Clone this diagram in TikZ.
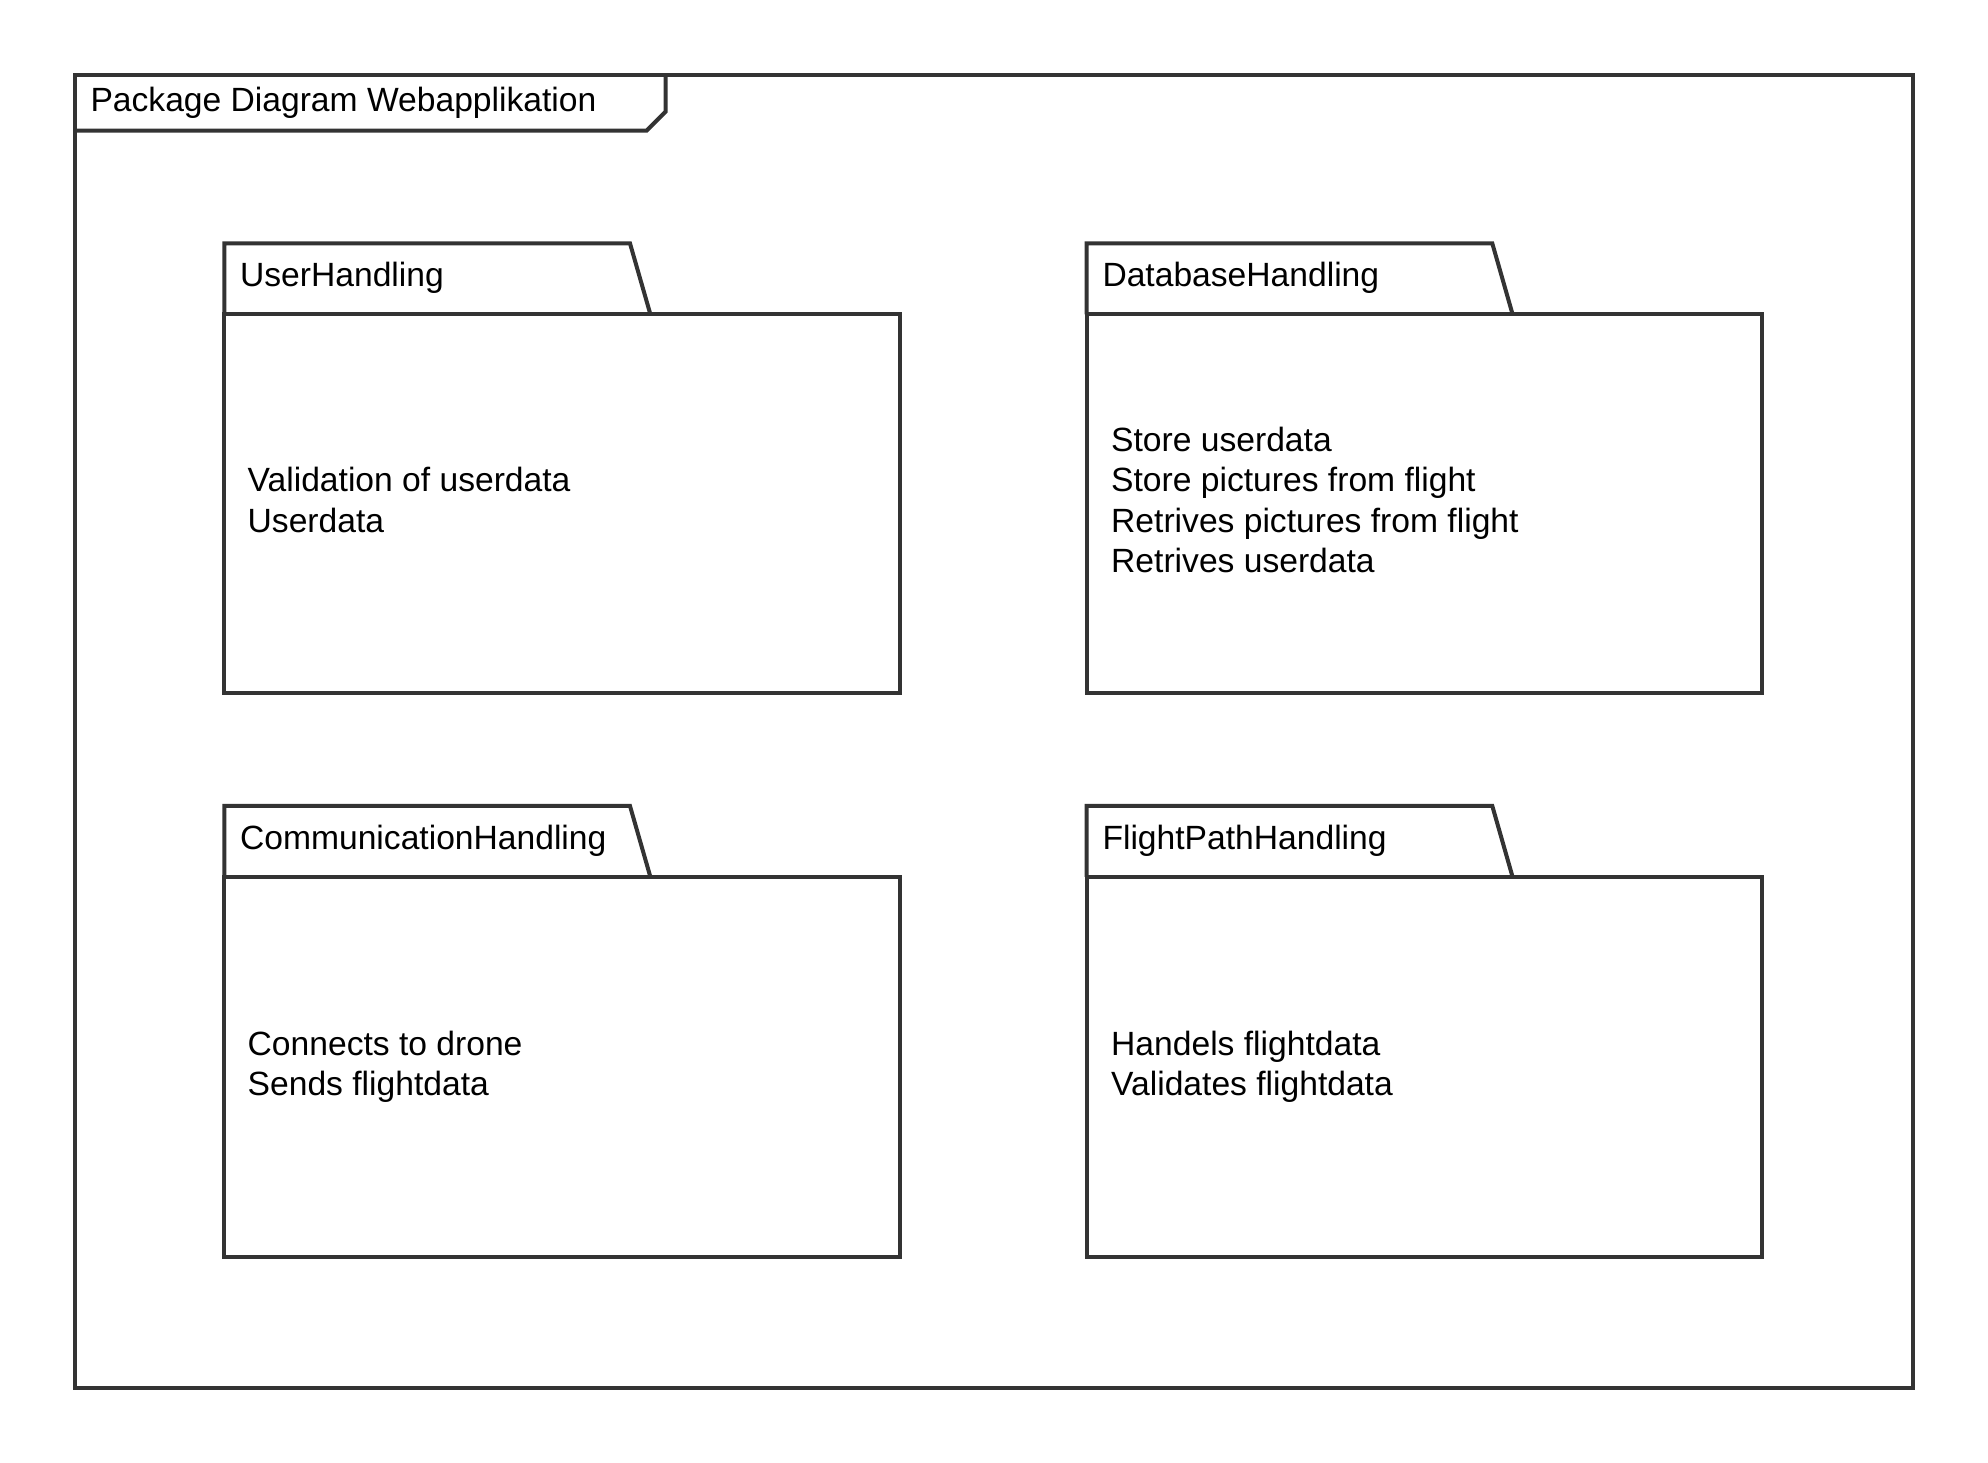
\documentclass[tikz,border=0pt]{standalone}
\usepackage{fontspec}
\setmainfont{Liberation Sans}
\usepackage{xcolor}
\definecolor{umlline}{HTML}{333333}

\begin{document}
\begin{tikzpicture}[x=0.4pt,y=-0.4pt,
    umlframe/.style={draw=umlline,line width=1.6pt,line join=miter},
    pkgtitle/.style={anchor=west,inner sep=0pt,font=\fontsize{13.45}{16.2}\selectfont},
    pkgtext/.style={anchor=west,inner sep=0pt,align=left,font=\fontsize{13.45}{16.2}\selectfont}]
    \useasboundingbox (0,0) rectangle (1988,1463);

    % outer frame
    \draw[umlframe] (74.8,74.8) rectangle (1913,1388);
    \draw[umlframe] (74.8,130.6) -- (646.6,130.6) -- (665.6,111.6) -- (665.6,74.8);
    \node[pkgtitle] (frame-title) at (90,102.6) {Package Diagram Webapplikation};

    % UserHandling
    \draw[umlframe] (224.4,314.4) rectangle (900.2,693.5);
    \draw[umlframe] (224.4,314.4) |- (630,243.4) -- (650.4,314.4);
    \node[pkgtitle] (user-title) at (239.6,277.6) {UserHandling};
    \node[pkgtext] (user-text) at (247.2,500) {Validation of userdata\\Userdata};

    % DatabaseHandling
    \draw[umlframe] (1086.6,314.4) rectangle (1762.4,693.5);
    \draw[umlframe] (1086.6,314.4) |- (1492.3,243.4) -- (1512.6,314.4);
    \node[pkgtitle] (db-title) at (1102,277.6) {DatabaseHandling};
    \node[pkgtext] (db-text) at (1110.7,500) {Store userdata\\Store pictures from flight\\Retrives pictures from flight\\Retrives userdata};

    % CommunicationHandling
    \draw[umlframe] (224.4,877) rectangle (900.2,1257);
    \draw[umlframe] (224.4,877) |- (630,806) -- (650.4,877);
    \node[pkgtitle] (com-title) at (239.6,841.2) {CommunicationHandling};
    \node[pkgtext] (com-text) at (247.2,1067) {Connects to drone\\Sends flightdata};

    % FlightPathHandling
    \draw[umlframe] (1086.6,877) rectangle (1762.4,1257);
    \draw[umlframe] (1086.6,877) |- (1492.3,806) -- (1512.6,877);
    \node[pkgtitle] (fp-title) at (1102,841.2) {FlightPathHandling};
    \node[pkgtext] (fp-text) at (1110.7,1067) {Handels flightdata\\Validates flightdata};
\end{tikzpicture}
\end{document}
